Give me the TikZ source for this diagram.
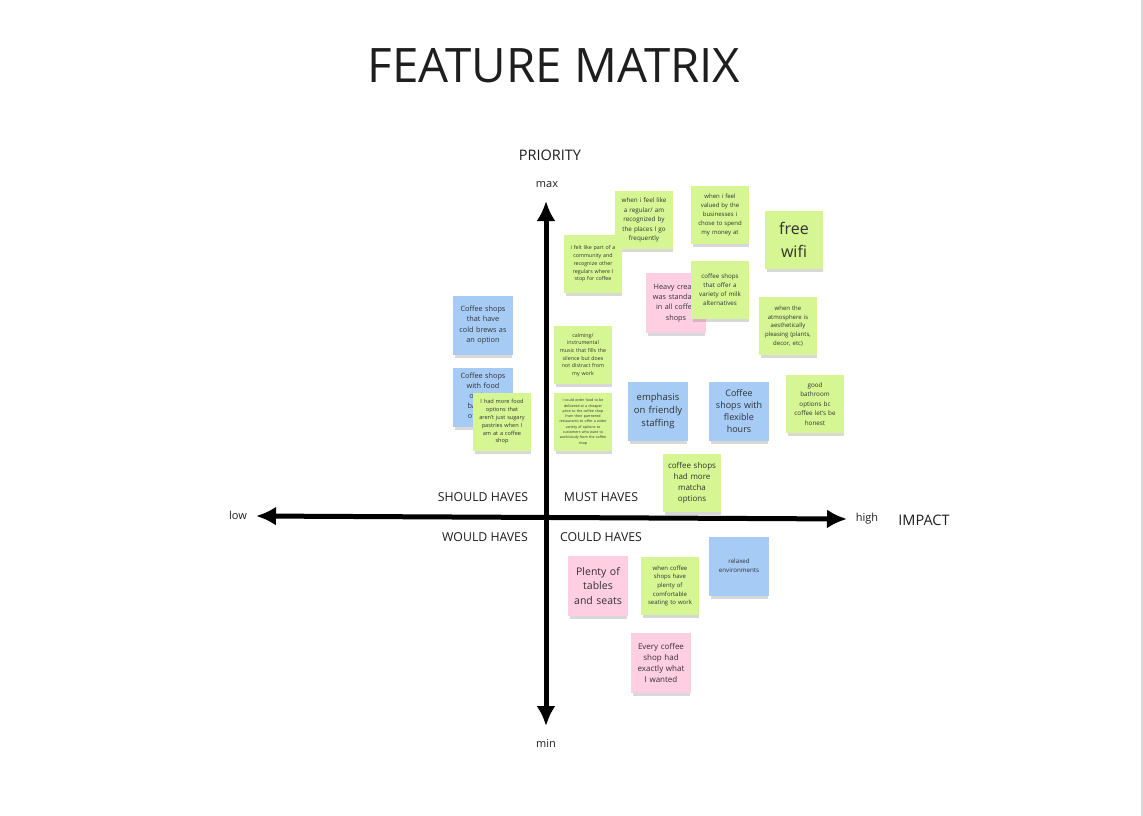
\documentclass[tikz,border=0pt]{standalone}
\usepackage{fontspec}
\setmainfont{Open Sans}
\usepackage{tikz}
\usetikzlibrary{arrows.meta,shadows}
\definecolor{stickygreen}{RGB}{213, 246, 146}
\definecolor{stickyblue}{RGB}{166, 204, 245}
\definecolor{stickypink}{RGB}{255, 206, 224}
\definecolor{inkgray}{RGB}{50, 50, 50}
\definecolor{inkdark}{RGB}{30, 30, 30}
\tikzset{
  sticky/.style={rectangle, minimum width=58pt, minimum height=58pt, inner sep=0pt,
    text width=54pt, align=center, text=inkgray,
    drop shadow={shadow xshift=1pt, shadow yshift=-5pt, shadow scale=0.95, opacity=0.25, fill=black!60}},
  greennote/.style={sticky, fill=stickygreen},
  bluenote/.style={sticky, fill=stickyblue, minimum width=60pt, minimum height=59pt},
  pinknote/.style={sticky, fill=stickypink, minimum width=60pt, minimum height=60pt},
  quadrant/.style={font=\fontsize{12.3}{14}\selectfont, text=inkdark},
  axislabel/.style={font=\fontsize{14.5}{17}\selectfont, text=inkdark},
  endlabel/.style={font=\fontsize{11}{13}\selectfont, text=inkdark},
  axis/.style={line width=5pt, {Latex[length=20pt,width=19pt]}-{Latex[length=20pt,width=19pt]}}
}

\begin{document}
\begin{tikzpicture}[x=1pt,y=-1pt]
            % Frame to fix the page
            \useasboundingbox[fill=white] (0,0) rectangle (1143,816);
            \fill[black!15] (1141,0) rectangle (1143,816);
            % Title
            \node[font=\fontsize{47.5}{56}\selectfont, text=inkdark] (title) at (554,66) {FEATURE MATRIX};
            % Axes
            \coordinate (top)    at (546,201);
            \coordinate (bottom) at (546,726);
            \coordinate (left)   at (256,516);
            \coordinate (right)  at (847,519);
            \draw[axis] (bottom) -- (top);
            \draw[axis] (left) -- (right);
            % Axis labels
            \node[axislabel] (priority) at (550,155) {PRIORITY};
            \node[endlabel]  (max)      at (547,185) {max};
            \node[endlabel]  (min)      at (546,743) {min};
            \node[endlabel]  (low)      at (238,515) {low};
            \node[endlabel]  (high)     at (867,519) {high};
            \node[axislabel] (impact)   at (924,520) {IMPACT};
            % Quadrants
            \node[quadrant] (should) at (483,497) {SHOULD HAVES};
            \node[quadrant] (must)   at (601,497) {MUST HAVES};
            \node[quadrant] (would)  at (485,537) {WOULD HAVES};
            \node[quadrant] (could)  at (601,537) {COULD HAVES};
            % Must haves
            \node[greennote, font=\fontsize{6.3}{9.5}\selectfont] (regular) at (644,220)
              {when i feel like\\a regular/ am\\recognized by\\the places I go\\frequently};
            \node[greennote, font=\fontsize{5.3}{7.8}\selectfont] (community) at (593,264)
              {i felt like part of a\\community and\\recognize other\\regulars where I\\stop for coffee};
            \node[greennote, font=\fontsize{6}{8.8}\selectfont] (valued) at (720,215)
              {when i feel\\valued by the\\businesses i\\chose to spend\\my money at};
            \node[greennote, font=\fontsize{16}{23}\selectfont] (wifi) at (794,240)
              {free\\wifi};
            \node[pinknote, font=\fontsize{7.3}{10.3}\selectfont] (cream) at (676,303)
              {Heavy cream\\was standard\\in all coffee\\shops};
            \node[greennote, font=\fontsize{6.2}{9}\selectfont] (milk) at (720,290)
              {coffee shops\\that offer a\\variety of milk\\alternatives};
            \node[greennote, font=\fontsize{6}{8.8}\selectfont] (atmosphere) at (788,326)
              {when the\\atmosphere is\\aesthetically\\pleasing (plants,\\decor, etc)};
            \node[greennote, font=\fontsize{5.3}{7.7}\selectfont] (calming) at (583,355)
              {calming/\\instrumental\\music that fills the\\silence but does\\not distract from\\my work};
            \node[greennote, font=\fontsize{3.6}{5.3}\selectfont] (delivery) at (583,422)
              {I could order food to be\\delivered at a cheaper\\price to the coffee shop\\from their partnered\\restaurants to offer a wider\\variety of options to\\customers who want to\\work/study from the coffee\\shop};
            \node[bluenote, font=\fontsize{9.5}{13}\selectfont] (staffing) at (658,411)
              {emphasis\\on friendly\\staffing};
            \node[bluenote, font=\fontsize{9}{12.2}\selectfont] (hours) at (739,411)
              {Coffee\\shops with\\flexible\\hours};
            \node[greennote, font=\fontsize{6.3}{9.4}\selectfont] (bathroom) at (815,404)
              {good\\bathroom\\options bc\\coffee let's be\\honest};
            \node[greennote, font=\fontsize{8}{11.2}\selectfont] (matcha) at (692,483)
              {coffee shops\\had more\\matcha\\options};
            % Should haves
            \node[bluenote, font=\fontsize{7.3}{10.3}\selectfont] (coldbrew) at (483,325)
              {Coffee shops\\that have\\cold brews as\\an option};
            \node[bluenote, font=\fontsize{7.3}{10}\selectfont] (food) at (483,397)
              {Coffee shops\\with food\\options,\\balanced\\offerings};
            \node[greennote, font=\fontsize{5.6}{7.8}\selectfont] (pastries) at (502,422)
              {I had more food\\options that\\aren't just sugary\\pastries when I\\am at a coffee\\shop};
            % Could haves
            \node[pinknote, font=\fontsize{10.5}{14.8}\selectfont] (tables) at (598,586)
              {Plenty of\\tables\\and seats};
            \node[greennote, font=\fontsize{6}{8.7}\selectfont] (seating) at (670,586)
              {when coffee\\shops have\\plenty of\\comfortable\\seating to work};
            \node[bluenote, font=\fontsize{6.2}{8.7}\selectfont] (relaxed) at (739,566)
              {relaxed\\environments};
            \node[pinknote, font=\fontsize{8}{11.2}\selectfont] (wanted) at (661,663)
              {Every coffee\\shop had\\exactly what\\I wanted};
        \end{tikzpicture}
\end{document}
